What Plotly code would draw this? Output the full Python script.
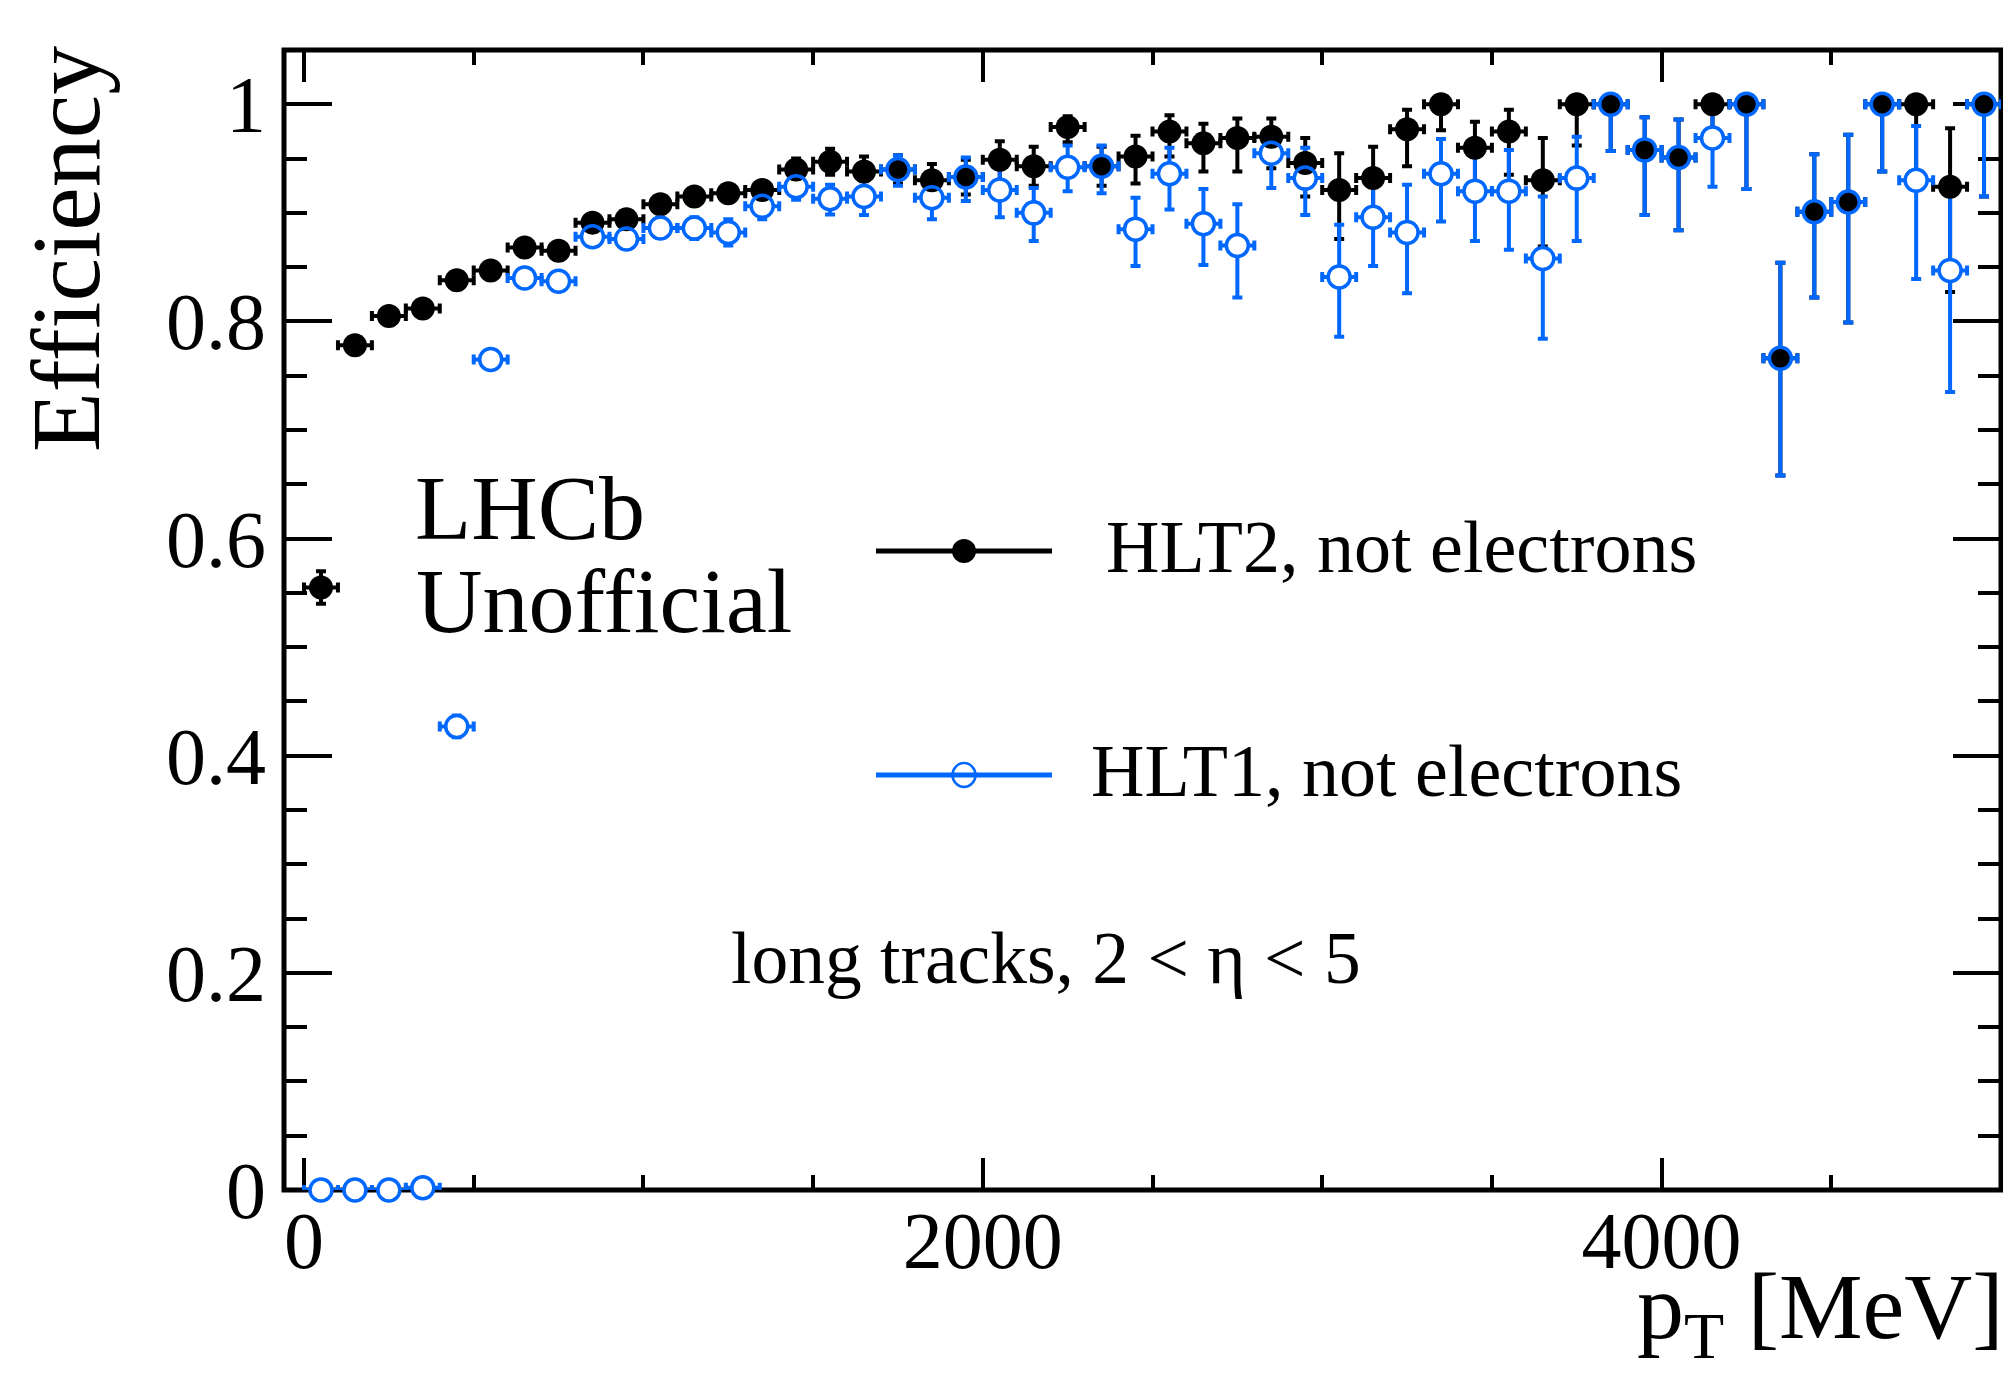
import plotly.graph_objects as go

# ---------------- data ----------------
pt_bins = [50 + 100 * i for i in range(50)]          # bin centres [MeV]
pt_halfwidth = [50] * 50

hlt2_eff = [0.555, 0.778, 0.805, 0.812, 0.838, 0.847, 0.868, 0.865, 0.891, 0.894,
            0.908, 0.915, 0.918, 0.921, 0.940, 0.947, 0.938, 0.940, 0.930, 0.933,
            0.949, 0.943, 0.979, 0.943, 0.952, 0.975, 0.964, 0.969, 0.970, 0.946,
            0.921, 0.932, 0.977, 1.000, 0.960, 0.975, 0.930, 1.000, 1.000, 0.958,
            0.951, 1.000, 1.000, 0.766, 0.901, 0.910, 1.000, 1.000, 0.924, 1.000]
hlt2_err_up = [0.015, 0.005, 0.005, 0.005, 0.005, 0.005, 0.005, 0.006, 0.006, 0.006,
               0.006, 0.006, 0.007, 0.008, 0.010, 0.012, 0.014, 0.013, 0.015, 0.016,
               0.017, 0.018, 0.010, 0.018, 0.019, 0.015, 0.018, 0.018, 0.017, 0.023,
               0.034, 0.029, 0.018, 0.000, 0.024, 0.020, 0.039, 0.000, 0.000, 0.030,
               0.035, 0.000, 0.000, 0.088, 0.053, 0.062, 0.000, 0.000, 0.054, 0.000]
hlt2_err_dn = [0.015, 0.005, 0.005, 0.005, 0.005, 0.005, 0.005, 0.006, 0.006, 0.006,
               0.006, 0.006, 0.007, 0.008, 0.010, 0.012, 0.014, 0.013, 0.017, 0.016,
               0.021, 0.018, 0.014, 0.018, 0.025, 0.023, 0.026, 0.031, 0.029, 0.031,
               0.045, 0.040, 0.034, 0.024, 0.036, 0.040, 0.061, 0.038, 0.043, 0.060,
               0.067, 0.035, 0.078, 0.108, 0.079, 0.111, 0.062, 0.072, 0.097, 0.085]

hlt1_eff = [0.000, 0.000, 0.000, 0.002, 0.427, 0.765, 0.840, 0.837, 0.878, 0.876,
            0.886, 0.886, 0.882, 0.906, 0.924, 0.913, 0.915, 0.940, 0.914, 0.933,
            0.921, 0.900, 0.942, 0.943, 0.885, 0.936, 0.890, 0.870, 0.955, 0.932,
            0.841, 0.896, 0.882, 0.936, 0.920, 0.920, 0.858, 0.932, 1.000, 0.958,
            0.951, 0.969, 1.000, 0.766, 0.901, 0.910, 1.000, 0.930, 0.847, 1.000]
hlt1_err_up = [0.002, 0.002, 0.002, 0.002, 0.010, 0.008, 0.008, 0.008, 0.008, 0.009,
               0.009, 0.010, 0.012, 0.012, 0.012, 0.013, 0.014, 0.013, 0.018, 0.018,
               0.021, 0.023, 0.020, 0.019, 0.029, 0.024, 0.032, 0.038, 0.022, 0.028,
               0.048, 0.037, 0.044, 0.032, 0.034, 0.038, 0.057, 0.038, 0.000, 0.030,
               0.035, 0.023, 0.000, 0.088, 0.053, 0.062, 0.000, 0.050, 0.080, 0.000]
hlt1_err_dn = [0.000, 0.000, 0.000, 0.002, 0.010, 0.008, 0.008, 0.008, 0.008, 0.009,
               0.009, 0.010, 0.012, 0.012, 0.012, 0.0145, 0.017, 0.015, 0.020, 0.022,
               0.025, 0.026, 0.022, 0.025, 0.034, 0.033, 0.038, 0.048, 0.032, 0.034,
               0.055, 0.045, 0.056, 0.044, 0.046, 0.054, 0.074, 0.058, 0.043, 0.060,
               0.067, 0.045, 0.078, 0.108, 0.079, 0.111, 0.062, 0.091, 0.112, 0.085]

x_ticks = [0, 2000, 4000]
y_ticks = [0, 0.2, 0.4, 0.6, 0.8, 1]

# ---------------- style / geometry ----------------
BLACK = "#000000"
BLUE = "#0068ff"
FONT = "Liberation Serif"
OFF = 8                                  # default page (body) margin
W, H = 2011 - 2 * OFF, 1385 - 2 * OFF
ML, MR, MT, MB = 276, 2, 42, 187
PW, PH = W - ML - MR, H - MT - MB


def px(xp):          # page pixel -> paper x
    return (xp - OFF - ML) / PW


def py(yp):          # page pixel -> paper y
    return (OFF + MT + PH - yp) / PH


fig = go.Figure()


def err_trace(y, up, dn, color):
    return go.Scatter(
        x=pt_bins, y=y, mode="markers",
        marker=dict(size=2, color="rgba(0,0,0,0)"),
        error_x=dict(type="data", array=pt_halfwidth, symmetric=True,
                     color=color, thickness=4, width=5),
        error_y=dict(type="data", array=up, arrayminus=dn, symmetric=False,
                     color=color, thickness=4, width=5),
        cliponaxis=False, hoverinfo="skip", showlegend=False)


fig.add_trace(err_trace(hlt2_eff, hlt2_err_up, hlt2_err_dn, BLACK))
fig.add_trace(err_trace(hlt1_eff, hlt1_err_up, hlt1_err_dn, BLUE))
# hollow interior of the open circles
fig.add_trace(go.Scatter(x=pt_bins, y=hlt1_eff, mode="markers",
                         marker=dict(symbol="circle", size=20, color="white",
                                     line=dict(width=0)),
                         cliponaxis=False, hoverinfo="skip", showlegend=False))
fig.add_trace(go.Scatter(x=pt_bins, y=hlt2_eff, mode="markers", name="HLT2, not electrons",
                         marker=dict(symbol="circle", size=24, color=BLACK,
                                     line=dict(width=0)),
                         cliponaxis=False, showlegend=False))
fig.add_trace(go.Scatter(x=pt_bins, y=hlt1_eff, mode="markers", name="HLT1, not electrons",
                         marker=dict(symbol="circle-open", size=22, color=BLUE,
                                     line=dict(width=3.5, color=BLUE)),
                         cliponaxis=False, showlegend=False))

axis_common = dict(showline=True, linewidth=1, linecolor=BLACK, mirror="allticks",
                   ticks="inside", tickcolor=BLACK, tickwidth=4, layer="below traces",
                   showgrid=False, zeroline=False,
                   tickfont=dict(family=FONT, size=80, color=BLACK))

fig.update_xaxes(range=[-59, 5000], tickvals=x_ticks, tickformat="d", ticklen=32,
                 ticklabelstandoff=-19,
                 minor=dict(dtick=500, tick0=0, ticks="inside", ticklen=15,
                            tickwidth=4, tickcolor=BLACK, showgrid=False),
                 **axis_common)
fig.update_yaxes(range=[0, 1.05], tickvals=y_ticks, ticklen=48,
                 ticklabelstandoff=1,
                 minor=dict(dtick=0.05, tick0=0, ticks="inside", ticklen=23,
                            tickwidth=4, tickcolor=BLACK, showgrid=False),
                 **axis_common)

ann = []


def text(t, xp, yp, size, xanchor="left", yanchor="middle", angle=0):
    ann.append(dict(text=t, x=px(xp), y=py(yp), xref="paper", yref="paper",
                    xanchor=xanchor, yanchor=yanchor, showarrow=False, textangle=angle,
                    font=dict(family=FONT, size=size, color=BLACK)))


text("LHCb", 413, 508, 92)
text("Unofficial", 414, 601, 92)
text("HLT2, not electrons", 1104, 547, 74)
text("HLT1, not electrons", 1089, 771, 74)
text("long tracks, 2 &lt; η &lt; 5", 1046, 958, 73.5, xanchor="center")
text("p<sub>T</sub> [MeV]", 2006, 1313, 94, xanchor="right")
text("Efficiency", 66, 249, 98, xanchor="center", angle=-90)

shapes = [dict(type="rect", xref="paper", yref="paper", x0=0, x1=1, y0=0, y1=1,
               line=dict(color=BLACK, width=5), fillcolor="rgba(0,0,0,0)",
               layer="below")]
for yl, col in [(551, BLACK), (775, BLUE)]:
    shapes.append(dict(type="line", xref="paper", yref="paper",
                       x0=px(876), x1=px(1052), y0=py(yl), y1=py(yl),
                       line=dict(color=col, width=5)))
shapes.append(dict(type="circle", xref="paper", yref="paper", xsizemode="pixel",
                   ysizemode="pixel", xanchor=px(964), yanchor=py(551),
                   x0=-12, x1=12, y0=-12, y1=12,
                   fillcolor=BLACK, line=dict(width=0)))
shapes.append(dict(type="circle", xref="paper", yref="paper", xsizemode="pixel",
                   ysizemode="pixel", xanchor=px(964), yanchor=py(775),
                   x0=-11.5, x1=11.5, y0=-12, y1=12,
                   fillcolor="rgba(0,0,0,0)", line=dict(color=BLUE, width=2.5)))

fig.update_layout(width=W, height=H, margin=dict(l=ML, r=MR, t=MT, b=MB),
                  paper_bgcolor="white", plot_bgcolor="white",
                  showlegend=False, annotations=ann, shapes=shapes)

fig.write_html("out.html")
